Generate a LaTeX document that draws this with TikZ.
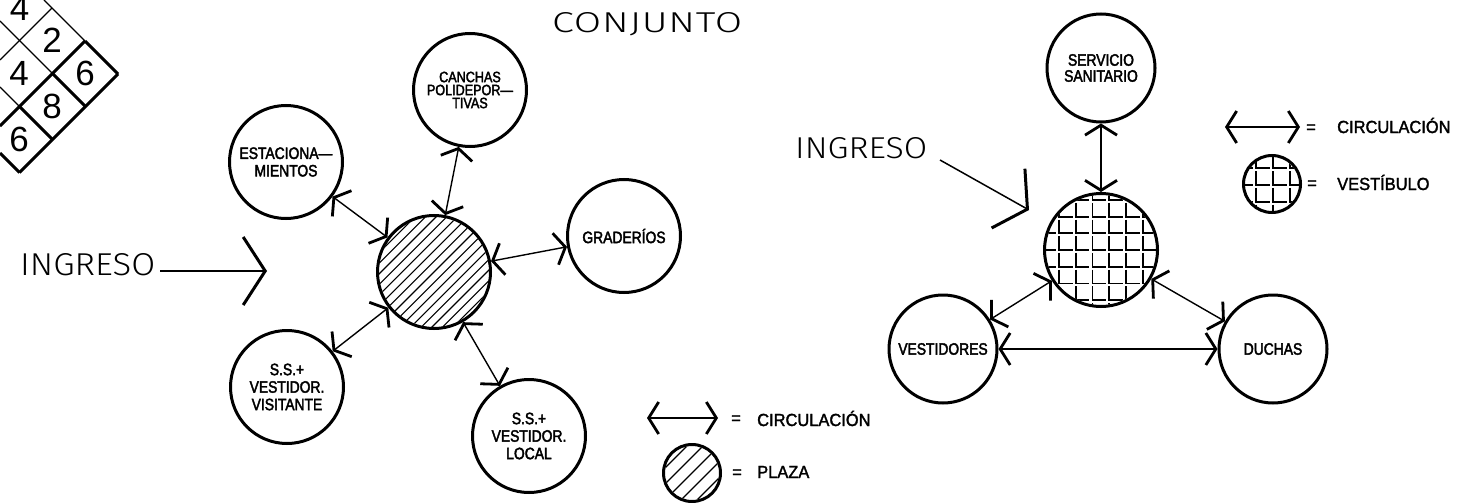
\documentclass[tikz,border=0pt]{standalone}
\usepackage{fontspec}
\usepackage{graphicx}
\usetikzlibrary{arrows.meta}
\setmainfont{Liberation Sans}
\newfontfamily\labf[FakeStretch=0.84,FakeBold=2.4]{Liberation Sans}
\newfontfamily\legf[FakeStretch=0.94,FakeBold=1.8]{Liberation Sans}
\IfFontExistsTF{Fira Sans Light}{\newfontfamily\thinf{Fira Sans Light}}{\newfontfamily\thinf{Liberation Sans}}
\tikzset{
  chev/.tip={Straight Barb[length=10pt,width=32pt,line width=2.8pt]},
  bigchev/.tip={Straight Barb[length=22pt,width=68pt,line width=3pt]},
}
\newcommand\hatchfill[4]{%
  \begin{scope}
  \clip (#1,#2) circle (#3);
  \foreach \k in {-9,...,9}
    \draw[hatchline] ({#1+(\k)*#4-80},{#2+80}) -- ++(160,-160);
  \end{scope}}
\newcommand\lgridfill[5]{%
  \begin{scope}
  \clip (#1,#2) circle (#3);
  \foreach \i in {-4,...,4}
    \foreach \j in {-4,...,4}
      \draw[gridline] ({#1+#4+(\i)*16.7},{#2+#5+(\j)*16.7-13.8}) -- ++(0,13.8) -- ++(13.6,0);
  \end{scope}}
\begin{document}
\begin{tikzpicture}[x=1pt,y=-1pt,
  ring/.style={circle,draw,line width=3pt,inner sep=0pt},
  bub/.style={ring,minimum size=113pt,align=center,font=\labf\fontsize{16.5}{17.5}\selectfont},
  rbub/.style={bub,minimum size=108pt},
  conn/.style={line width=1.4pt,{chev}-{chev}},
  ingarrow/.style={line width=1.5pt,-{bigchev}},
  hatchline/.style={line width=1.1pt},
  gridline/.style={line width=1.8pt},
  thinl/.style={line width=1.3pt},
  thickl/.style={line width=3pt},
  dig/.style={font=\fontsize{35}{35}\selectfont,inner sep=0pt},
  leg/.style={font=\legf\fontsize{17.5}{20}\selectfont,inner sep=0pt,anchor=base west},
  eq/.style={font=\legf\fontsize{17.5}{20}\selectfont,inner sep=0pt,anchor=base},
  big/.style={inner sep=0pt,anchor=base west},
]
\useasboundingbox (0,0) rectangle (1457,503);
\fill[white] (0,0) rectangle (1457,503);

% ---- top-left number grid ----
\draw[thinl] (44,0) -- (85,41);
\draw[thickl] (85,41) -- (118,74);
\draw[thinl] (0,21) -- (52.5,73.5);
\draw[thickl] (52.5,73.5) -- (85.5,106.5);
\draw[thinl] (0,87) -- (19.5,106.5);
\draw[thickl] (19.5,106.5) -- (52.5,139.5);
\draw[thickl] (0,153) -- (19.5,172.5);
\draw[thinl] (0,60) -- (52,8);
\draw[thickl] (0,126) -- (85,41);
\draw[thickl] (19.5,172.5) -- (118,74);
\node[dig] (d1) at (19.5,8) {4};
\node[dig] (d2) at (52,40.5) {2};
\node[dig] (d3) at (85,73.5) {6};
\node[dig] (d4) at (19,73) {4};
\node[dig] (d5) at (52,106) {8};
\node[dig] (d6) at (19,139) {6};

% ---- left diagram ----
\node[big] (conj) at (552,33) {\resizebox{190pt}{20pt}{\thinf\addfontfeatures{LetterSpace=2}CONJUNTO}};
\node[bub] (plaza) at (434,272) {};
\hatchfill{434}{272}{55}{10.6}
\node[bub] (est) at (286,162) {ESTACIONA—\\MIENTOS};
\node[bub,font=\labf\fontsize{15}{13}\selectfont] (can) at (470,90) {CANCHAS\\POLIDEPOR—\\TIVAS};
\node[bub] (gra) at (624,236) {GRADERÍOS};
\node[bub] (vis) at (287,387) {S.S.+\\VESTIDOR.\\VISITANTE};
\node[bub] (loc) at (529,436) {S.S.+\\VESTIDOR.\\LOCAL};
\draw[conn] (plaza) -- (est);
\draw[conn] (plaza) -- (can);
\draw[conn] (plaza) -- (gra);
\draw[conn] (plaza) -- (vis);
\draw[conn] (plaza) -- (loc);

\node[big] (ingL) at (20,275) {\resizebox{135pt}{22pt}{\thinf INGRESO}};
\coordinate (ingLs) at (160,271);
\coordinate (ingLt) at (267,271);
\draw[ingarrow] (ingLs) -- (ingLt);

% left legend
\coordinate (la1) at (647,418);
\coordinate (la2) at (718,418);
\draw[conn] (la1) -- (la2);
\node[eq] (e1) at (736,424) {=};
\node[leg] (t1) at (757,426) {CIRCULACIÓN};
\node[ring,minimum size=57pt] (lp) at (692,473) {};
\hatchfill{692}{473}{27}{16}
\node[eq] (e2) at (737,478) {=};
\node[leg] (t2) at (757,478) {PLAZA};

% ---- right diagram ----
\node[bub] (vest) at (1101,250) {};
\lgridfill{1101}{250}{55}{-8.5}{0}
\node[rbub,font=\labf\fontsize{16.5}{16}\selectfont] (serv) at (1101,68) {SERVICIO\\SANITARIO};
\node[rbub] (vsd) at (943,349) {VESTIDORES};
\node[rbub] (duc) at (1273,349) {DUCHAS};
\draw[conn] (vest) -- (serv);
\draw[conn] (vest) -- (vsd);
\draw[conn] (vest) -- (duc);
\draw[conn] (vsd) -- (duc);

\node[big] (ingR) at (795,158) {\resizebox{132pt}{21pt}{\thinf INGRESO}};
\coordinate (ingRs) at (940,160);
\coordinate (ingRt) at (1029,210);
\draw[ingarrow] (ingRs) -- (ingRt);

% right legend
\coordinate (ra1) at (1225,127);
\coordinate (ra2) at (1300,127);
\draw[conn] (ra1) -- (ra2);
\node[eq] (e3) at (1311,133) {=};
\node[leg] (t3) at (1337,133) {CIRCULACIÓN};
\node[ring,minimum size=57pt] (lv) at (1272,184) {};
\lgridfill{1272}{184}{27}{1}{1}
\node[eq] (e4) at (1312,189) {=};
\node[leg] (t4) at (1337,190) {VESTÍBULO};
\end{tikzpicture}
\end{document}
